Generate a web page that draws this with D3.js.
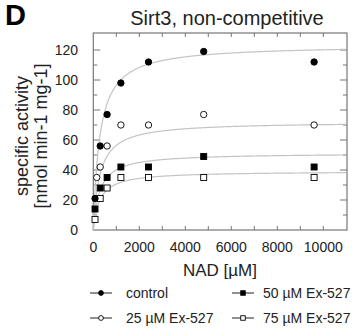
<!DOCTYPE html>
<html>
<head>
<meta charset="utf-8">
<script src="https://cdn.jsdelivr.net/npm/d3@7"></script>
<style>
  body { margin: 0; background: #fff; }
  svg text { font-family: "Liberation Sans", Arial, sans-serif; fill: #222; }
</style>
</head>
<body>
<div id="chart"></div>
<script>
// NAD concentrations (µM) and measured specific activity per series
const seriesNames = ["control", "25 µM Ex-527", "50 µM Ex-527", "75 µM Ex-527"];
const controlX = [75, 300, 600, 1200, 2400, 4800, 9600];
const controlY = [21, 56, 77, 98, 112, 119, 112];
const ex25X = [150, 300, 600, 1200, 2400, 4800, 9600];
const ex25Y = [35, 42, 56, 70, 70, 77, 70];
const ex50X = [75, 300, 600, 1200, 2400, 4800, 9600];
const ex50Y = [14, 28, 35, 42, 42, 49, 42];
const ex75X = [75, 300, 600, 1200, 2400, 4800, 9600];
const ex75Y = [7, 21, 28, 35, 35, 35, 35];
// Michaelis-Menten fit (shared Km, non-competitive)
const fitVmax = [123.5, 72.2, 51.3, 39.2];
const fitKm = [280, 280, 280, 280];
const xTickValues = [0, 2000, 4000, 6000, 8000, 10000];
const yTickValues = [0, 20, 40, 60, 80, 100, 120];

const width = 360, height = 332;
const x0 = 93.3, x1 = 347, y0 = 230, y1 = 33;

const svg = d3.select("#chart").append("svg")
    .attr("width", width)
    .attr("height", height);

const x = d3.scaleLinear().domain([0, 11000]).range([x0, x0 + 23 * 11]);
const y = d3.scaleLinear().domain([0, 130]).range([y0, y0 - 195]);

const gridColor = "#777";

// frame
svg.append("rect")
    .attr("x", x0).attr("y", y1)
    .attr("width", x1 - x0).attr("height", y0 - y1)
    .attr("fill", "none")
    .attr("stroke", gridColor)
    .attr("stroke-width", 1.2);

// ticks, inward on all four sides
const xMinor = d3.range(1000, 11000, 1000);
const yMinor = d3.range(10, 130, 10);

svg.append("g").selectAll("line").data(xMinor).enter().append("line")
    .attr("x1", d => x(d)).attr("x2", d => x(d))
    .attr("y1", y0).attr("y2", y0 - 4)
    .attr("stroke", gridColor);
svg.append("g").selectAll("line").data(xMinor).enter().append("line")
    .attr("x1", d => x(d)).attr("x2", d => x(d))
    .attr("y1", y1).attr("y2", y1 + 4)
    .attr("stroke", gridColor);
svg.append("g").selectAll("line").data(yMinor).enter().append("line")
    .attr("x1", x0).attr("x2", d => x0 + (d % 20 === 0 ? 7 : 4))
    .attr("y1", d => y(d)).attr("y2", d => y(d))
    .attr("stroke", gridColor);
svg.append("g").selectAll("line").data(yMinor).enter().append("line")
    .attr("x1", x1).attr("x2", d => x1 - (d % 20 === 0 ? 7 : 4))
    .attr("y1", d => y(d)).attr("y2", d => y(d))
    .attr("stroke", gridColor);

// tick labels
svg.append("g").selectAll("text").data(xTickValues).enter().append("text")
    .attr("x", d => x(d)).attr("y", 252)
    .attr("text-anchor", "middle")
    .style("font-size", "14px")
    .text(d => d);
svg.append("g").selectAll("text").data(yTickValues).enter().append("text")
    .attr("x", 78).attr("y", d => y(d) + 5)
    .attr("text-anchor", "end")
    .style("font-size", "14px")
    .text(d => d);

// axis titles
svg.append("text")
    .attr("x", 220).attr("y", 276)
    .attr("text-anchor", "middle")
    .style("font-size", "17px")
    .text("NAD [µM]");
svg.append("text")
    .attr("transform", "translate(28,136) rotate(-90)")
    .attr("text-anchor", "middle")
    .style("font-size", "18px")
    .text("specific activity");
svg.append("text")
    .attr("transform", "translate(47,136) rotate(-90)")
    .attr("text-anchor", "middle")
    .style("font-size", "18px")
    .text("[nmol min-1 mg-1]");

// title and panel letter
svg.append("text")
    .attr("x", 227).attr("y", 25)
    .attr("text-anchor", "middle")
    .style("font-size", "20px")
    .text("Sirt3, non-competitive");
svg.append("text")
    .attr("x", 5).attr("y", 25)
    .style("font-size", "29px")
    .style("font-weight", "bold")
    .style("fill", "#000")
    .text("D");

// fitted curves
const curveX = d3.range(0, 11001, 25);
const line = d3.line().x(d => x(d[0])).y(d => y(d[1]));
fitVmax.forEach((vmax, i) => {
    const km = fitKm[i];
    svg.append("path")
        .datum(curveX.map(c => [c, vmax * c / (km + c)]))
        .attr("d", line)
        .attr("fill", "none")
        .attr("stroke", "#c4c4c4")
        .attr("stroke-width", 1.2);
});

// markers
const series = [
    { xs: controlX, ys: controlY, shape: "circle", filled: true },
    { xs: ex25X, ys: ex25Y, shape: "circle", filled: false },
    { xs: ex50X, ys: ex50Y, shape: "square", filled: true },
    { xs: ex75X, ys: ex75Y, shape: "square", filled: false }
];

function drawMarker(g, cx, cy, s, scale) {
    const k = scale || 1;
    if (s.shape === "circle") {
        g.append("circle")
            .attr("cx", cx).attr("cy", cy).attr("r", 3.2 * k)
            .attr("fill", s.filled ? "#000" : "#fff")
            .attr("stroke", "#000").attr("stroke-width", 0.9);
    } else {
        const h = 3 * k;
        g.append("rect")
            .attr("x", cx - h).attr("y", cy - h)
            .attr("width", 2 * h).attr("height", 2 * h)
            .attr("fill", s.filled ? "#000" : "#fff")
            .attr("stroke", "#000").attr("stroke-width", 0.9);
    }
}

// draw open series first so filled ones sit on top where they overlap
[3, 1, 2, 0].forEach(i => {
    const s = series[i];
    const g = svg.append("g");
    s.xs.forEach((xv, j) => drawMarker(g, x(xv), y(s.ys[j]), s));
});

// legend
const legendPos = [[90, 293, 126], [90, 318, 126], [232, 293, 263], [232, 318, 263]];
series.forEach((s, i) => {
    const [lx, ly, tx] = legendPos[i];
    const g = svg.append("g");
    g.append("line")
        .attr("x1", lx).attr("x2", lx + 22)
        .attr("y1", ly).attr("y2", ly)
        .attr("stroke", "#222").attr("stroke-width", 1);
    drawMarker(g, lx + 11, ly, s, 0.75);
    g.append("text")
        .attr("x", tx).attr("y", ly + 5)
        .style("font-size", "14px")
        .text(seriesNames[i]);
});
</script>
</body>
</html>
